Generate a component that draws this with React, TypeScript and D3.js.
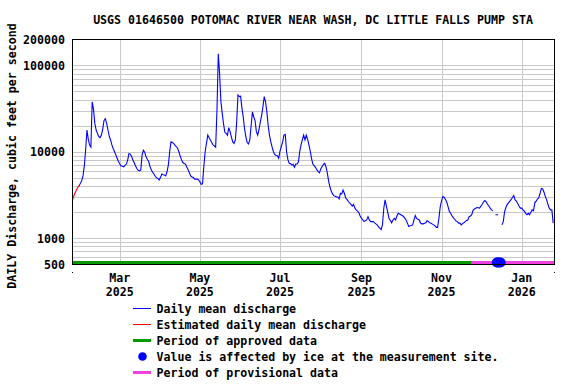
import * as d3 from "d3";

// daily mean discharge (cfs), one value per day starting START; null = no value
const START = Date.UTC(2025, 0, 24);
const END = Date.UTC(2026, 0, 26);
const FLOW: (number | null)[] = [
  2770, 3070, 3350, 3610, 3870, 4010, 4300, 4620, 5250, 6850,
  10460, 17870, 14000, 12000, 11300, 37800, 31000, 21300, 17870, 16350,
  15000, 14600, 15600, 18200, 23000, 24100, 21300, 17870, 15100, 13700,
  12000, 10900, 10000, 9200, 8400, 7700, 7200, 6850, 6800, 6700,
  6950, 7200, 8000, 9550, 9400, 8800, 8000, 7440, 6850, 6400,
  6100, 6000, 6170, 9200, 10400, 9850, 8770, 8200, 7700, 6750,
  6170, 5800, 5520, 5200, 5000, 4920, 4710, 5050, 5520, 5400,
  5380, 5250, 5900, 7060, 10000, 13000, 12800, 12500, 11900, 11500,
  11000, 10000, 8900, 8100, 7500, 7300, 7200, 6650, 6200, 5700,
  5250, 5100, 5050, 4800, 4820, 4830, 4710, 4500, 4200, 4250,
  6750, 10000, 12500, 15600, 14500, 13700, 12800, 12000, 11700, 11300,
  30000, 137000, 80000, 38000, 28000, 21000, 16800, 16350, 15600, 19000,
  17100, 14800, 13000, 12500, 13700, 22000, 45500, 43600, 44000, 32000,
  25300, 18500, 15000, 12800, 12300, 13700, 20000, 29000, 25300, 23000,
  17100, 15600, 18000, 22000, 26300, 33300, 43600, 37700, 29000, 20000,
  15500, 13000, 11300, 10000, 9300, 9050, 8990, 8400, 10200, 11500,
  13000, 15600, 15900, 10000, 8100, 7350, 7300, 7000, 7160, 6600,
  7200, 7200, 7600, 10000, 12000, 13700, 15600, 13700, 15600, 14000,
  12000, 10200, 8400, 7200, 6900, 6600, 6200, 5900, 5700, 6300,
  6700, 7100, 7350, 6700, 5700, 4600, 3900, 3500, 3250, 3100,
  3040, 3000, 2990, 2840, 3300, 3240, 3600, 3300, 2910, 2800,
  2650, 2550, 2460, 2350, 2460, 2220, 2120, 2050, 1970, 1800,
  1700, 1620, 1550, 1590, 1620, 1770, 1620, 1550, 1550, 1550,
  1500, 1460, 1420, 1350, 1300, 1250, 1420, 2200, 2770, 2350,
  2000, 1690, 1600, 1500, 1620, 1690, 1620, 1800, 1940, 1900,
  1860, 1820, 1780, 1700, 1620, 1490, 1360, 1390, 1400, 1420,
  1620, 1820, 1690, 1650, 1620, 1490, 1460, 1460, 1480, 1500,
  1590, 1550, 1500, 1480, 1450, 1420, 1390, 1330, 1330, 1700,
  2300, 2700, 3040, 2950, 2800, 2600, 2300, 2020, 1940, 1800,
  1720, 1650, 1580, 1550, 1490, 1490, 1420, 1470, 1500, 1550,
  1600, 1620, 1770, 1800, 1860, 2100, 2170, 2220, 2260, 2240,
  2220, 2350, 2460, 2630, 2720, 2630, 2460, 2350, 2220, 2120,
  2070, null, 1860, 1860, 1860, null, null, 1420, 1550, 2020,
  2260, 2460, 2560, 2680, 2800, 2950, 3110, 2770, 2680, 2510,
  2350, 2220, 2220, 2120, 2050, 1930, 1860, 1940, 1860, 1990,
  2120, 2070, 2560, 2680, 2830, 2910, 3300, 3760, 3700, 3400,
  3040, 2770, 2460, 2220, 2120, 2120, 1490,
];
const ESTIMATED_LAST = 5; // days 0..5 are estimated
const PROVISIONAL_FROM = Date.UTC(2025, 10, 24);
const ICE_DAYS = [Date.UTC(2025, 11, 13), Date.UTC(2025, 11, 14), Date.UTC(2025, 11, 15), Date.UTC(2025, 11, 16)];

const Y_LABELS = [500, 1000, 10000, 100000, 200000];
const X_TICKS = [
  { d: Date.UTC(2025, 2, 1), m: "Mar", y: "2025" },
  { d: Date.UTC(2025, 4, 1), m: "May", y: "2025" },
  { d: Date.UTC(2025, 6, 1), m: "Jul", y: "2025" },
  { d: Date.UTC(2025, 8, 1), m: "Sep", y: "2025" },
  { d: Date.UTC(2025, 10, 1), m: "Nov", y: "2025" },
  { d: Date.UTC(2026, 0, 1), m: "Jan", y: "2026" },
];

const TITLE = "USGS 01646500 POTOMAC RIVER NEAR WASH, DC LITTLE FALLS PUMP STA";
const Y_TITLE = "DAILY Discharge, cubic feet per second";

const C = {
  blue: "#0000ff", red: "#ff0000", green: "#009900", pink: "#f040e0",
  grid: "#c8c8c8", text: "#000",
};
const FONT = "'DejaVu Sans Mono', 'Liberation Mono', monospace";

const W = 576, H = 384;
const L = 72.5, R = 554.5, T = 39.5, B = 264;

export default function App() {
  const x = d3.scaleUtc().domain([START, END]).range([L, R]);
  const y = d3.scaleLog().domain([500, 200000]).range([B, T]);
  const dayDate = (i: number) => START + i * 86400000;

  const pts = FLOW.map((v, i) => ({ t: dayDate(i), v, i }));
  const line = d3.line<{ t: number; v: number | null }>()
    .defined(d => d.v != null)
    .x(d => x(d.t))
    .y(d => y(d.v as number));
  const estPath = line(pts.filter(p => p.i <= ESTIMATED_LAST)) || "";
  const obsPath = line(pts.filter(p => p.i >= ESTIMATED_LAST)) || "";

  // minor log gridlines 1..9 per decade
  const gridVals: number[] = [];
  for (let e = 2; e <= 5; e++) for (let k = 1; k <= 9; k++) {
    const v = k * Math.pow(10, e);
    if (v > 500 && v < 200000) gridVals.push(v);
  }

  const legend = [
    { kind: "line", color: C.blue, label: "Daily mean discharge" },
    { kind: "line", color: C.red, label: "Estimated daily mean discharge" },
    { kind: "bar", color: C.green, label: "Period of approved data" },
    { kind: "dot", color: C.blue, label: "Value is affected by ice at the measurement site." },
    { kind: "bar", color: C.pink, label: "Period of provisional data" },
  ];

  const txt = { fontFamily: FONT, fontSize: 11.6, fontWeight: 700, fill: C.text } as const;
  const px = x(PROVISIONAL_FROM);

  return (
    <svg width={W} height={H} style={{ position: "absolute", left: 0, top: 0, background: "#fff" }}>
      <text x={313} y={24} textAnchor="middle" {...txt}>{TITLE}</text>

      {/* gridlines */}
      <g stroke={C.grid} strokeWidth={1} shapeRendering="crispEdges">
        {gridVals.map(v => (
          <line key={v} x1={L} x2={R} y1={Math.round(y(v)) + 0.5} y2={Math.round(y(v)) + 0.5} />
        ))}
        {X_TICKS.map(t => (
          <line key={t.d} x1={Math.round(x(t.d)) + 0.5} x2={Math.round(x(t.d)) + 0.5} y1={T} y2={B} />
        ))}
      </g>

      {/* approved / provisional bars */}
      <rect x={L} y={261} width={px - L} height={3} fill={C.green} />
      <rect x={px} y={261} width={R - px} height={3} fill={C.pink} />

      {/* discharge */}
      <path d={obsPath} fill="none" stroke={C.blue} strokeWidth={1.1} />
      <path d={estPath} fill="none" stroke={C.red} strokeWidth={1.1} />

      {/* ice */}
      {ICE_DAYS.map(d => (
        <circle key={d} cx={x(d)} cy={262.5} r={5} fill={C.blue} />
      ))}

      {/* frame */}
      <rect x={L} y={T} width={R - L} height={B - T} fill="none" stroke="#000" strokeWidth={1} shapeRendering="crispEdges" />
      <rect x={72} y={272} width={1} height={1} fill="#000" />
      <rect x={554} y={272} width={1} height={1} fill="#000" />

      {/* y labels */}
      {Y_LABELS.map(v => (
        <text key={v} x={65} y={y(v) + 4.5} textAnchor="end" {...txt}>{v}</text>
      ))}
      <text transform="translate(16,156) rotate(-90)" textAnchor="middle" {...txt}>{Y_TITLE}</text>

      {/* x labels: month over year */}
      {X_TICKS.map(t => (
        <g key={t.d}>
          <text x={x(t.d)} y={281.5} textAnchor="middle" {...txt}>{t.m}</text>
          <text x={x(t.d)} y={295.5} textAnchor="middle" {...txt}>{t.y}</text>
        </g>
      ))}

      {/* legend */}
      {legend.map((it, i) => {
        const cy = 308.5 + i * 16;
        return (
          <g key={it.label}>
            {it.kind === "line" && <line x1={133} x2={151} y1={cy} y2={cy} stroke={it.color} strokeWidth={1} />}
            {it.kind === "bar" && <rect x={133} y={cy - 1.5} width={18} height={3} fill={it.color} />}
            {it.kind === "dot" && <circle cx={142.5} cy={cy} r={4.3} fill={it.color} />}
            <text x={156.5} y={cy + 4} {...txt}>{it.label}</text>
          </g>
        );
      })}
    </svg>
  );
}
